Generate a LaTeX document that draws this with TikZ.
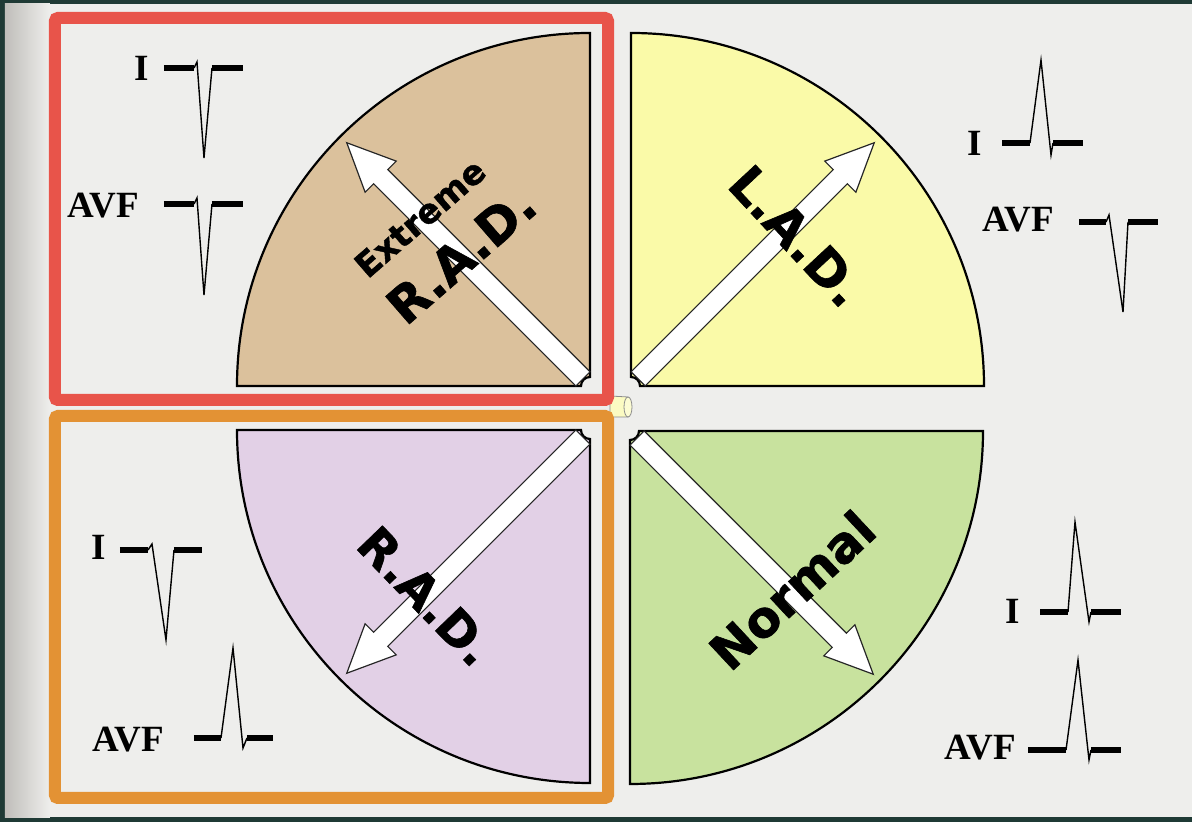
\documentclass[tikz,border=0pt]{standalone}
\usepackage{fontspec}
\setmainfont{Liberation Serif}
\newfontfamily\axisfont{DejaVu Sans}[BoldFeatures = {FakeBold = 1.2}]
\usepackage{xcolor}
\usetikzlibrary{positioning, calc}

\definecolor{slate}{RGB}{31,58,53}
\definecolor{paper}{RGB}{238,238,236}
\definecolor{shadow}{RGB}{192,190,186}
\definecolor{redbox}{RGB}{232,84,74}
\definecolor{orangebox}{RGB}{227,146,52}
\definecolor{tanfill}{RGB}{219,193,156}
\definecolor{lemonfill}{RGB}{250,250,168}
\definecolor{lilacfill}{RGB}{226,208,230}
\definecolor{limefill}{RGB}{200,226,158}

\begin{document}
\begin{tikzpicture}[x = 0.5pt, y = 0.5pt,
	quadrant/.style = {draw = black, line width = 1.1pt},
	blockarrow/.style = {draw = black!85, fill = white, line width = 0.6pt},
	axislabel/.style = {font = \axisfont\bfseries\fontsize{25}{25}\selectfont, inner sep = 0pt},
	leadlabel/.style = {font = \bfseries\fontsize{18.5}{18.5}\selectfont, inner sep = 0pt},
	trace/.style = {line width = 2.6pt},
	spike/.style = {line width = 0.7pt},
	boxframe/.style = {line width = 6pt, rounded corners = 1.5pt}]
	\useasboundingbox (-610,-414) rectangle (582,408);
	\fill[slate] (-610,-414) rectangle (582,408);
	\shade[left color = shadow, right color = paper] (-605,-409) rectangle (-560,404);
	\fill[paper] (-560,-409) rectangle (582,404);

	\coordinate (tl) at (-20,22);
	\coordinate (tr) at (21,22);
	\coordinate (bl) at (-20,-22);
	\coordinate (br) at (20,-23);

	% the four quarters
	\foreach \c/\a/\col in {tl/90/tanfill, tr/0/lemonfill, bl/180/lilacfill, br/270/limefill}
		\draw[quadrant, fill = \col] ($(\c)+(\a:9)$) -- ($(\c)+(\a:353)$) arc[start angle = \a, end angle = \a+90, radius = 353] -- ($(\c)+(\a+90:9)$) arc[start angle = \a+90, end angle = \a, radius = 9] -- cycle;

	\foreach \c/\ang in {tl/135, tr/45, bl/225, br/-45}
		\draw[blockarrow, shift = {(\c)}, rotate = \ang] (10,-10) -- (296,-10) -- (296,-22) -- (344,0) -- (296,22) -- (296,10) -- (10,10) -- cycle;

	\node[axislabel, rotate = 41] (extreme) at (-190,190) {\fontsize{17}{17}\selectfont Extreme};
	\node[axislabel, rotate = 41] (rad) at (-149,153) {R.A.D.};
	\node[axislabel, rotate = -47] (lad) at (187,172) {L.A.D.};
	\node[axislabel, rotate = -46] (radlow) at (-184,-188) {\fontsize{24}{24}\selectfont R.A.D.};
	\node[axislabel, rotate = 43] (normal) at (182,-182) {Normal};

	% small pin in the middle
	\filldraw[fill = lemonfill!70, draw = black!45, line width = 0.4pt] (0,-9) -- (18,-9) -- (18,11) -- (0,12) -- cycle;
	\filldraw[fill = lemonfill!50, draw = black!45, line width = 0.4pt] (18,1) ellipse (4 and 10);

	% leads I and AVF
	\node[leadlabel] (tlI) at (-468,340) {I};
	\draw[trace] (-446,340) -- (-416,340);
	\draw[spike] (-416,340) -- (-413,346) -- (-406,250) -- (-398,340);
	\draw[trace] (-398,340) -- (-367,340);
	\node[leadlabel] (tlAVF) at (-507,202) {AVF};
	\draw[trace] (-446,204) -- (-416,204);
	\draw[spike] (-416,204) -- (-413,210) -- (-406,113) -- (-398,204);
	\draw[trace] (-398,204) -- (-367,204);

	\node[leadlabel] (trI) at (365,265) {I};
	\draw[trace] (392,265) -- (420,265);
	\draw[spike] (420,265) -- (431,348) -- (441,253) -- (443,265);
	\draw[trace] (443,265) -- (473,265);
	\node[leadlabel] (trAVF) at (408,188) {AVF};
	\draw[trace] (469,186) -- (496,186);
	\draw[spike] (496,186) -- (499,193) -- (513,96) -- (518,186);
	\draw[trace] (518,186) -- (548,186);

	\node[leadlabel] (blI) at (-511,-139) {I};
	\draw[trace] (-490,-142) -- (-462,-142);
	\draw[spike] (-462,-142) -- (-458,-136) -- (-444,-232) -- (-436,-142);
	\draw[trace] (-436,-142) -- (-408,-142);
	\node[leadlabel] (blAVF) at (-482,-332) {AVF};
	\draw[trace] (-416,-330) -- (-389,-330);
	\draw[spike] (-389,-330) -- (-377,-240) -- (-367,-340) -- (-363,-330);
	\draw[trace] (-363,-330) -- (-337,-330);

	\node[leadlabel] (brI) at (403,-203) {I};
	\draw[trace] (430,-204) -- (458,-204);
	\draw[spike] (458,-204) -- (465,-114) -- (479,-214) -- (481,-204);
	\draw[trace] (481,-204) -- (511,-204);
	\node[leadlabel] (brAVF) at (370,-340) {AVF};
	\draw[trace] (418,-342) -- (456,-342);
	\draw[spike] (456,-342) -- (468,-252) -- (479,-352) -- (481,-342);
	\draw[trace] (481,-342) -- (511,-342);

	% highlight frames
	\draw[boxframe, redbox] (-555,8) rectangle (-2,390);
	\draw[boxframe, orangebox] (-555,-8) rectangle (-2,-390);
\end{tikzpicture}
\end{document}
